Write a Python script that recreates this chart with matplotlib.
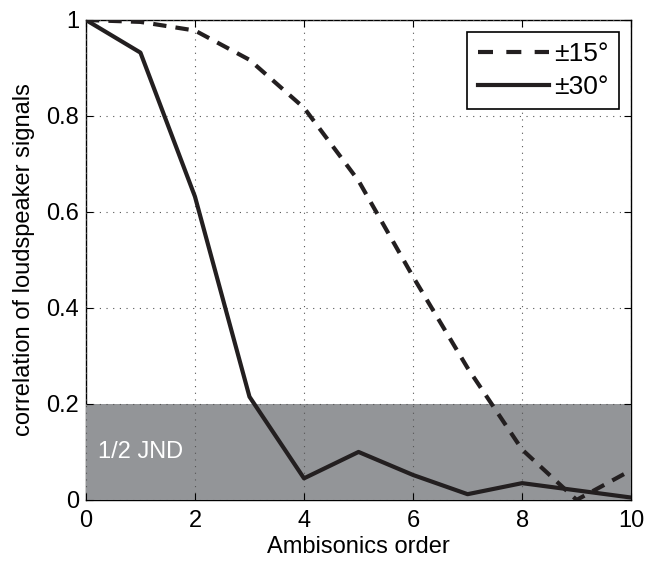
import matplotlib
matplotlib.use("Agg")
import matplotlib.pyplot as plt
from matplotlib.lines import Line2D
import numpy as np

plt.rcParams['font.family'] = ['Liberation Sans', 'DejaVu Sans']

orders = [0, 1, 2, 3, 4, 5, 6, 7, 8, 9, 10]
corr_15 = [1.0, 0.996, 0.978, 0.917, 0.817, 0.665, 0.465, 0.275, 0.105, 0.0, 0.062]
corr_30 = [1.0, 0.932, 0.632, 0.215, 0.045, 0.100, 0.052, 0.012, 0.035, 0.020, 0.005]
jnd_level = 0.2
jnd_label = "1/2 JND"
labels = ["\u00b115\u00b0", "\u00b130\u00b0"]

line_color = '#231f20'

fig = plt.figure(figsize=(6.46, 5.63), dpi=100)
ax = fig.add_axes([0.133, 0.112, 0.844, 0.8525])

ax.fill_between([0, 10], [0, 0], [jnd_level, jnd_level], color='#939598', lw=0,
                zorder=1, clip_on=False)
ax.text(0.22, 0.1, jnd_label, color='white', fontsize=17, va='center', ha='left', zorder=2)

ax.plot(orders, corr_15, color=line_color, lw=3, dashes=(3.2, 2.2), zorder=4)
ax.plot(orders, corr_30, color=line_color, lw=3, zorder=4)

ax.set_xlim(0, 10)
ax.set_ylim(0, 1)
ax.set_xticks([0, 2, 4, 6, 8, 10])
ax.set_yticks([0, 0.2, 0.4, 0.6, 0.8, 1])
ax.set_yticklabels(['0', '0.2', '0.4', '0.6', '0.8', '1'])
ax.grid(True, linestyle=(0, (1, 5)), color='#555555', lw=0.8, zorder=3)
ax.set_axisbelow(False)
ax.tick_params(direction='in', top=True, right=True, labelsize=17, length=5, width=0.8)
ax.tick_params(axis='x', pad=7)
ax.tick_params(axis='y', pad=5)
for s in ax.spines.values():
    s.set_linewidth(1.0)
    s.set_zorder(0.5)

ax.set_xlabel("Ambisonics order", fontsize=17, labelpad=3)
ax.set_ylabel("correlation of loudspeaker signals", fontsize=17, labelpad=8)

handles = [Line2D([], [], color=line_color, lw=3, dashes=(3.6, 3.2), dash_capstyle='butt'),
           Line2D([], [], color=line_color, lw=3)]
leg = ax.legend(handles, labels, loc='upper right', fontsize=19, frameon=True, fancybox=False,
                edgecolor='black', framealpha=1, handlelength=2.7, handletextpad=0.2,
                borderaxespad=0.45, borderpad=0.4, labelspacing=0.32)
leg.get_frame().set_linewidth(1.2)

fig.savefig("out.png", dpi=100)
